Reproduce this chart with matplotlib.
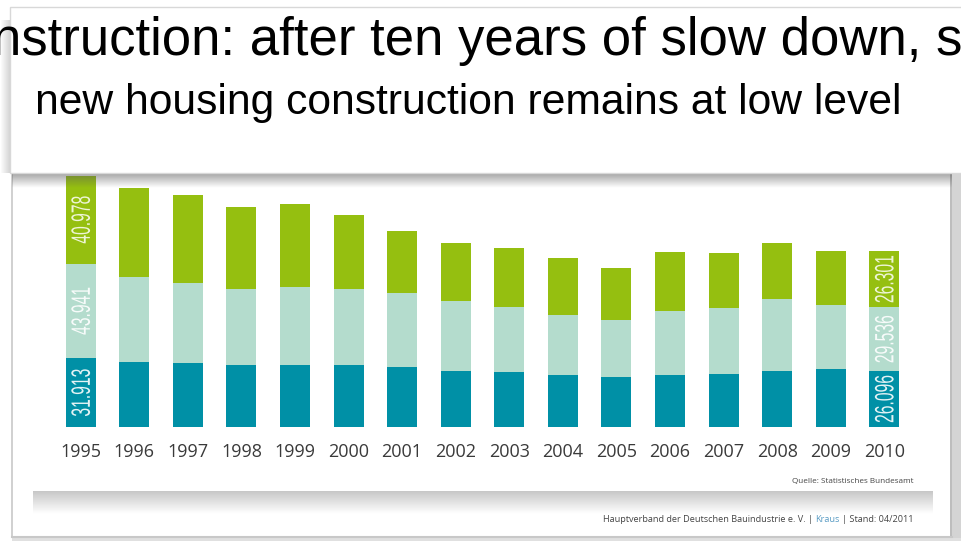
import matplotlib
matplotlib.use("Agg")
import matplotlib.pyplot as plt
import matplotlib.transforms as mtransforms
from matplotlib.patches import Rectangle, PathPatch
from matplotlib.textpath import TextPath
from matplotlib.font_manager import FontProperties
import numpy as np

# Daten (Tausend Wohnungen)
years = [1995, 1996, 1997, 1998, 1999, 2000, 2001, 2002,
         2003, 2004, 2005, 2006, 2007, 2008, 2009, 2010]
teal_vals = [31.913, 30.2, 29.6, 28.7, 29.0, 28.7, 27.8, 26.2,
             25.4, 24.0, 23.1, 24.0, 24.5, 26.0, 26.8, 26.096]
mint_vals = [43.941, 39.4, 37.2, 35.3, 36.3, 35.3, 34.6, 32.2,
             30.4, 28.1, 26.8, 30.1, 30.8, 33.6, 30.0, 29.536]
green_vals = [40.978, 41.4, 40.9, 38.4, 38.5, 34.4, 28.8, 27.4,
              27.3, 26.5, 24.0, 27.3, 25.4, 25.9, 25.0, 26.301]
labelled = [1995, 2010]

title = "nstruction: after ten years of slow down, s"
subtitle = "new housing construction remains at low level"
source = "Quelle: Statistisches Bundesamt"
footer_a = "Hauptverband der Deutschen Bauindustrie e. V. |"
footer_b = "Kraus"
footer_c = "| Stand: 04/2011"

c_teal = "#0090a6"
c_mint = "#b4dccd"
c_green = "#95bf10"

W, H = 961, 541
fig = plt.figure(figsize=(W / 100, H / 100), dpi=100)

# Hintergrund in Pixelkoordinaten
bg = fig.add_axes([0, 0, 1, 1], zorder=0)
bg.set_xlim(0, W)
bg.set_ylim(H, 0)
bg.axis("off")
bg.add_patch(Rectangle((0, 0), W, H, facecolor="white", edgecolor="none"))
# Rahmen des Bildes
bg.plot([12, 12], [170, 537], color="#c8c8c8", lw=1.2)
bg.plot([12, 952], [537, 537], color="#c8c8c8", lw=1.5)
bg.add_patch(Rectangle((952, 170), 9, 371, facecolor="#d4d4d4", edgecolor="none"))
bg.add_patch(Rectangle((950, 170), 2, 371, facecolor="#bdbdbd", edgecolor="none"))
bg.add_patch(Rectangle((12, 538), 949, 3, facecolor="#e0e0e0", edgecolor="none"))

# grauer Balken unten (Verlauf)
grad = np.linspace(0.78, 1.0, 50)[:, None] * np.ones((1, 10))
bg.imshow(grad, cmap="gray", vmin=0, vmax=1, extent=(33, 933, 514, 491),
          aspect="auto", zorder=1)

# Diagramm
ax = fig.add_axes([12 / W, 4 / H, 940 / W, 364 / H], zorder=1)
ax.patch.set_alpha(0)
ax.axis("off")
px_per_unit = 2.15
step = 53.57
x0 = 80.7
ax.set_xlim((12 - x0) / step, (952 - x0) / step)
ax.set_ylim(-(537 - 427) / px_per_unit, (427 - 173) / px_per_unit)

x = np.arange(len(years))
bw = 0.56
ax.bar(x, teal_vals, bw, color=c_teal)
ax.bar(x, mint_vals, bw, bottom=teal_vals, color=c_mint)
bot2 = np.array(teal_vals) + np.array(mint_vals)
ax.bar(x, green_vals, bw, bottom=bot2, color=c_green)

lab_prop = FontProperties(family="Liberation Sans")


def vlabel(xc, yc, s, color):
    # schmale, gedrehte Zahl (wie im Original)
    tp = TextPath((0, 0), s, size=28, prop=lab_prop)
    bb = tp.get_extents()
    tr = (mtransforms.Affine2D()
          .translate(-(bb.x0 + bb.x1) / 2, -(bb.y0 + bb.y1) / 2)
          .scale(0.56, 0.95).rotate_deg(90)
          + mtransforms.ScaledTranslation(xc, yc, ax.transData))
    ax.add_artist(PathPatch(tp, transform=tr, facecolor=color,
                            edgecolor="none", zorder=3))


for i, yr in enumerate(years):
    ax.text(i, -11.8, str(yr), ha="center", va="center", fontsize=13,
            color="#3a3a3a", family=["Open Sans", "DejaVu Sans"])
    if yr in labelled:
        segs = [(0, teal_vals[i], "#e4f3f5"),
                (teal_vals[i], mint_vals[i], "#f7fbfa"),
                (bot2[i], green_vals[i], "#eef5d6")]
        for b, v, col in segs:
            vlabel(i, b + v / 2, f"{v:.3f}", col)

ft = ["Open Sans", "DejaVu Sans"]
bg.text(913, 481, source, ha="right", va="center", fontsize=5.9,
        color="#444444", family=ft, zorder=3)
t3 = bg.text(913, 520, footer_c, ha="right", va="center", fontsize=6.6,
             color="#444444", family=ft, zorder=3)
t2 = bg.annotate(footer_b, xy=(0, 0.5), xycoords=t3, xytext=(-1.5, 0),
                 textcoords="offset points", ha="right", va="center",
                 fontsize=6.6, color="#5a9cc4", family=ft, zorder=3)
bg.annotate(footer_a, xy=(0, 0.5), xycoords=t2, xytext=(-1.5, 0),
            textcoords="offset points", ha="right", va="center",
            fontsize=6.6, color="#444444", family=ft, zorder=3)

# Titelkasten oben
top = fig.add_axes([0, 0, 1, 1], zorder=2)
top.patch.set_alpha(0)
top.set_xlim(0, W)
top.set_ylim(H, 0)
top.axis("off")
shadow = np.zeros((30, 10, 4))
shadow[..., :3] = 0.35
shadow[..., 3] = np.linspace(0.55, 0.0, 30)[:, None]
top.imshow(shadow, extent=(12, 952, 188, 173), aspect="auto", zorder=1)
lshadow = np.zeros((10, 12, 4))
lshadow[..., :3] = 0.35
lshadow[..., 3] = np.linspace(0.0, 0.25, 12)[None, :]
top.imshow(lshadow, extent=(0, 10, 173, 20), aspect="auto", zorder=1)
top.add_patch(Rectangle((10, 7), 960, 166, facecolor="white",
                        edgecolor="#d8d8d8", lw=1, zorder=2))
top.text(-8, 55, title, ha="left", va="baseline", fontsize=38,
         color="black", family=["Liberation Sans", "DejaVu Sans"], zorder=3)
top.text(35, 114, subtitle, ha="left", va="baseline", fontsize=30.7,
         color="black", family=["Liberation Sans", "DejaVu Sans"], zorder=3)

fig.savefig("out.png", dpi=100)
